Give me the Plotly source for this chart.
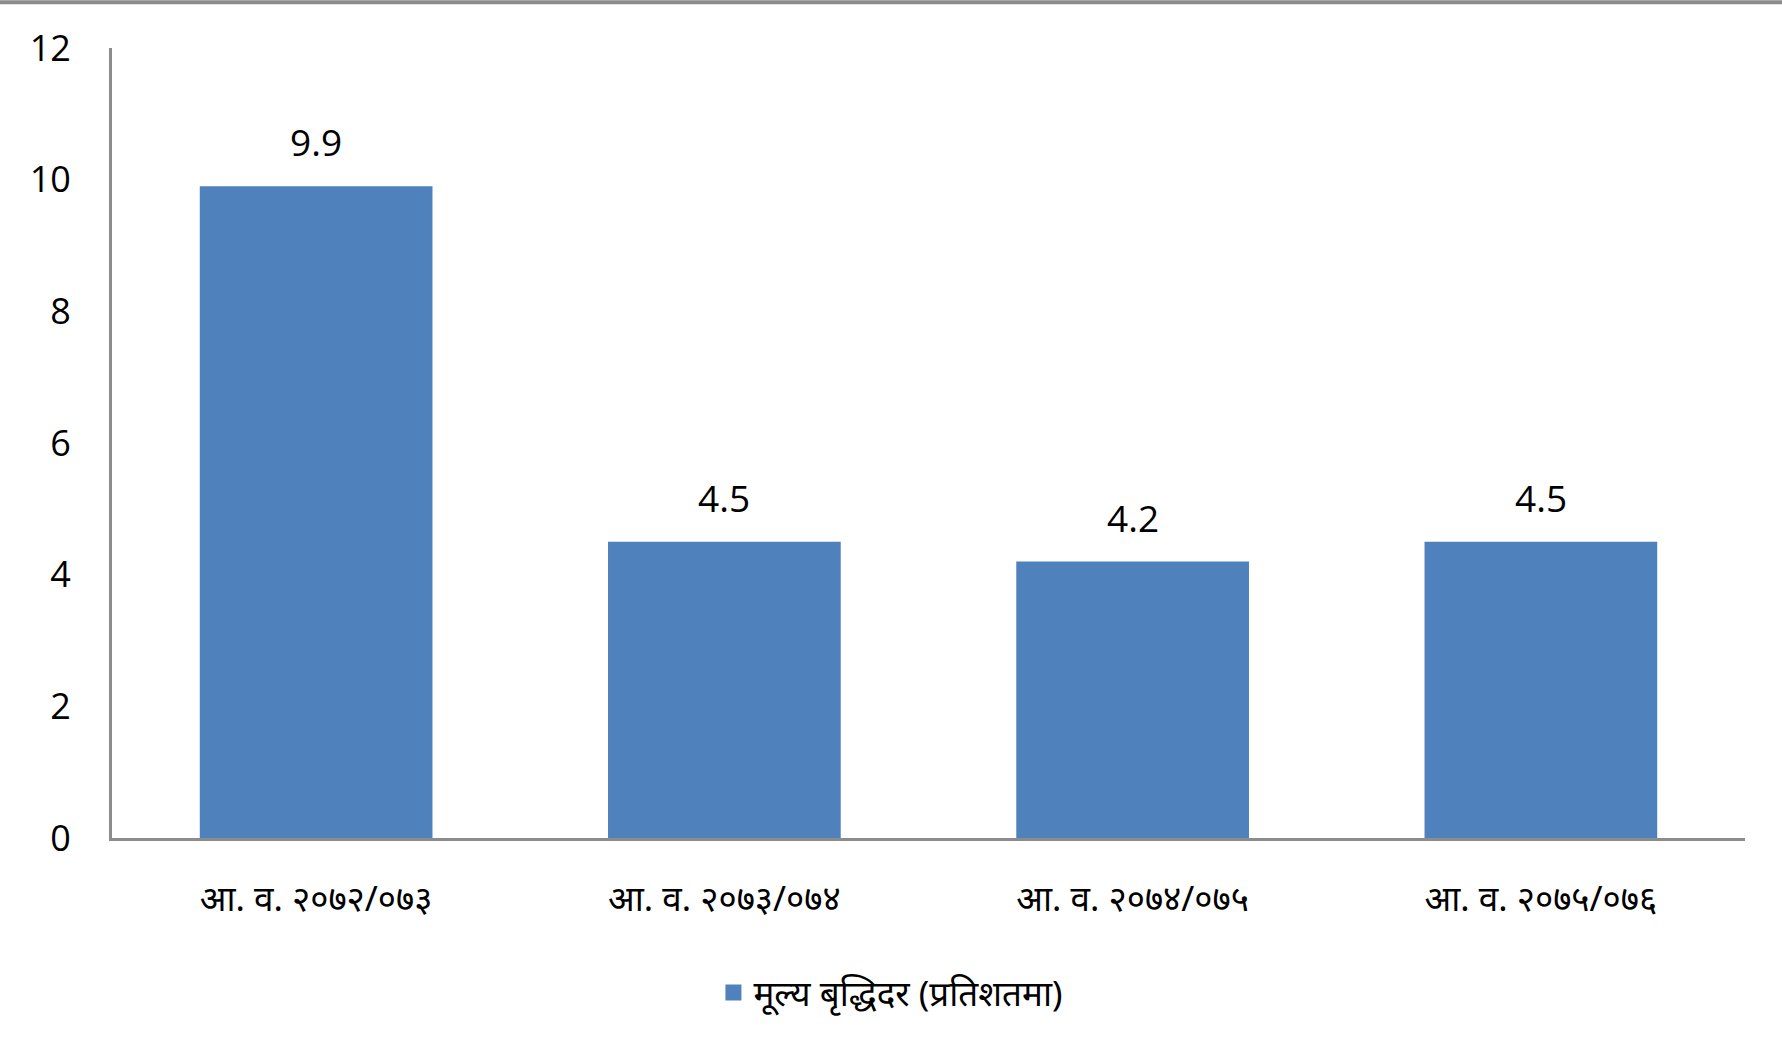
import plotly.graph_objects as go

# data
categories = ["आ. व. २०७२/०७३", "आ. व. २०७३/०७४", "आ. व. २०७४/०७५", "आ. व. २०७५/०७६"]
growth_rate = [9.9, 4.5, 4.2, 4.5]
series_name = "मूल्य बृद्धिदर (प्रतिशतमा)"
y_ticks = [0, 2, 4, 6, 8, 10, 12]

bar_color = "#4F81BD"
axis_color = "#8C8C8C"

fig = go.Figure()
fig.add_trace(go.Bar(x=categories, y=growth_rate, name=series_name,
                     marker=dict(color=bar_color, line=dict(width=0)),
                     showlegend=False))
# legend entry with a bigger square swatch
fig.add_trace(go.Scatter(x=[None], y=[None], mode="markers", name=series_name,
                         marker=dict(symbol="square", size=21, color=bar_color)))

# value labels above the bars
for cat, val in zip(categories, growth_rate):
    fig.add_annotation(x=cat, y=val, text=f"{val:.1f}", showarrow=False,
                       yanchor="bottom", yshift=17,
                       font=dict(family="Open Sans", size=37, color="black"))

fig.update_layout(
    width=1782, height=1041,
    margin=dict(l=112, r=37, t=48, b=203),
    plot_bgcolor="white", paper_bgcolor="white",
    bargap=0.43,
    font=dict(family="Open Sans", size=36, color="black"),
    legend=dict(orientation="h", x=0.477, xanchor="center", y=-0.196, yanchor="middle",
                font=dict(family="Noto Sans", size=35), itemsizing="trace", itemwidth=30),
    xaxis=dict(showline=True, linecolor=axis_color, linewidth=3, ticks="",
               tickfont=dict(family="Noto Sans", size=35), ticklabelstandoff=28),
    yaxis=dict(range=[0, 12], tickvals=y_ticks, showgrid=False, zeroline=False,
               showline=True, linecolor=axis_color, linewidth=3, ticks="",
               tickfont=dict(family="Open Sans", size=36), ticklabelstandoff=31),
)

# thin grey frame line along the top edge
fig.add_shape(type="line", xref="paper", yref="paper", x0=-0.07, x1=1.03, y0=1.058, y1=1.058,
              line=dict(color=axis_color, width=4))

fig.write_html("out.html", config={"displayModeBar": False},
               post_script="document.body.style.margin='0';")
